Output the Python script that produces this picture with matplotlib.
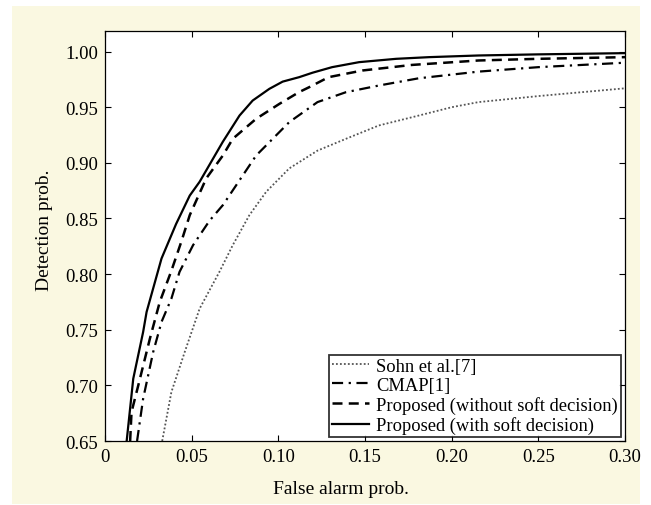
import numpy as np
import matplotlib
matplotlib.use("Agg")
import matplotlib.pyplot as plt
from matplotlib.patches import Rectangle

plt.rcParams['font.family'] = ['Liberation Serif', 'DejaVu Serif']

# Sohn et al.[7] (dotted)
x_sohn = [0.033, 0.0383, 0.046, 0.0546, 0.066, 0.0737, 0.0833, 0.093, 0.1063,
          0.1226, 0.139, 0.158, 0.181, 0.2, 0.2155, 0.25, 0.30]
y_sohn = [0.65, 0.694, 0.73, 0.769, 0.802, 0.826, 0.853, 0.874, 0.895,
          0.911, 0.9216, 0.9336, 0.9425, 0.950, 0.9546, 0.960, 0.967]

# CMAP[1] (dash-dot)
x_cmap = [0.0185, 0.022, 0.0278, 0.0326, 0.0383, 0.043, 0.0508, 0.0603, 0.068,
          0.0872, 0.1063, 0.1226, 0.139, 0.158, 0.181, 0.2155, 0.25, 0.30]
y_cmap = [0.65, 0.688, 0.73, 0.757, 0.778, 0.802, 0.826, 0.848, 0.862,
          0.9066, 0.9366, 0.9546, 0.9635, 0.9695, 0.976, 0.982, 0.986, 0.990]

# Proposed without soft decision (dashed)
x_nosoft = [0.0145, 0.0153, 0.0192, 0.0259, 0.0316, 0.0383, 0.044, 0.0489, 0.0584,
            0.068, 0.0737, 0.0872, 0.1006, 0.112, 0.1178, 0.129, 0.1485, 0.177,
            0.2155, 0.25, 0.30]
y_nosoft = [0.65, 0.676, 0.70, 0.742, 0.775, 0.803, 0.829, 0.853, 0.886,
            0.9066, 0.9216, 0.9396, 0.953, 0.9636, 0.968, 0.977, 0.983, 0.988,
            0.992, 0.9935, 0.995]

# Proposed with soft decision (solid)
x_soft = [0.0125, 0.0163, 0.022, 0.024, 0.0326, 0.041, 0.0489, 0.0546, 0.068,
          0.0776, 0.0852, 0.0948, 0.1025, 0.112, 0.1197, 0.131, 0.1466, 0.168,
          0.187, 0.2155, 0.25, 0.30]
y_soft = [0.65, 0.706, 0.748, 0.766, 0.814, 0.845, 0.8706, 0.883, 0.919,
          0.9425, 0.956, 0.9665, 0.973, 0.977, 0.981, 0.986, 0.9905, 0.9935,
          0.995, 0.9965, 0.9975, 0.9986]

labels = ["Sohn et al.[7]", "CMAP[1]", "Proposed (without soft decision)",
          "Proposed (with soft decision)"]
x_ticks = [0, 0.05, 0.10, 0.15, 0.20, 0.25, 0.30]
x_ticklabels = ["0", "0.05", "0.10", "0.15", "0.20", "0.25", "0.30"]
y_ticks = [0.65, 0.70, 0.75, 0.80, 0.85, 0.90, 0.95, 1.00]

fig = plt.figure(figsize=(6.51, 5.06), dpi=100)
fig.patch.set_facecolor("white")
# pale yellow panel behind the plot
bg = Rectangle((12/651, 1-505/506), 628/651, 498/506,
               transform=fig.transFigure, facecolor="#FAF8E1",
               edgecolor="none", zorder=-10)
fig.add_artist(bg)

ax = fig.add_axes([105/651, 64/506, 520/651, 410/506])
ax.set_facecolor("white")

ax.plot(x_sohn, y_sohn, linestyle=(0, (1, 1.2)), color="#555555", linewidth=1.3,
        label=labels[0])
ax.plot(x_cmap, y_cmap, linestyle=(0, (5, 2.5, 1, 2.5)), color="black",
        linewidth=1.6, label=labels[1])
ax.plot(x_nosoft, y_nosoft, linestyle=(0, (4, 2.5)), color="black", linewidth=1.8,
        label=labels[2])
ax.plot(x_soft, y_soft, linestyle="-", color="black", linewidth=1.6,
        label=labels[3])

ax.set_xlim(0, 0.30)
ax.set_ylim(0.65, 1.0185)
ax.set_xticks(x_ticks)
ax.set_xticklabels(x_ticklabels)
ax.set_yticks(y_ticks)
ax.set_yticklabels(["%.2f" % v for v in y_ticks])
ax.tick_params(direction="in", top=True, right=True, labelsize=13.5, length=4,
               width=0.8, pad=5)
for s in ax.spines.values():
    s.set_linewidth(0.9)

ax.set_xlabel("False alarm prob.", fontsize=14)
ax.set_ylabel("Detection prob.", fontsize=14)
ax.xaxis.set_label_coords(0.454, -0.095)
ax.yaxis.set_label_coords(-0.1, 0.517)

leg = ax.legend(loc="lower right", fontsize=13.3, frameon=True, fancybox=False,
                handlelength=2.0, handletextpad=0.4, borderpad=0.15,
                labelspacing=0.12, borderaxespad=0.22)
leg.get_frame().set_edgecolor("black")
leg.get_frame().set_linewidth(1.3)

fig.savefig("out.png", dpi=100)
